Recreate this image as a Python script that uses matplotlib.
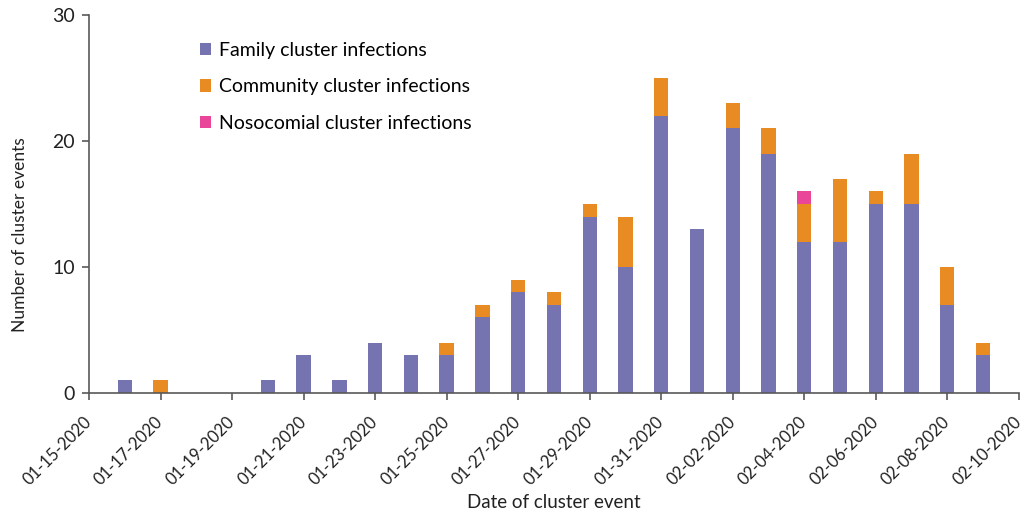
import numpy as np
import pandas as pd
import matplotlib
matplotlib.use('Agg')
import matplotlib.pyplot as plt
import matplotlib.dates as md

plt.rcParams['font.family'] = ['Lato', 'DejaVu Sans']

# Data
days = pd.date_range('2020-01-16', '2020-02-09', freq='D')
family = [1, 0, 0, 0, 1, 3, 1, 4, 3, 3, 6, 8, 7, 14, 10, 22, 13, 21, 19, 12, 12, 15, 15, 7, 3]
community = [0, 1, 0, 0, 0, 0, 0, 0, 0, 1, 1, 1, 1, 1, 4, 3, 0, 2, 2, 3, 5, 1, 4, 3, 1]
nosocomial = [0, 0, 0, 0, 0, 0, 0, 0, 0, 0, 0, 0, 0, 0, 0, 0, 0, 0, 0, 1, 0, 0, 0, 0, 0]
tick_days = pd.date_range('2020-01-15', '2020-02-10', freq='2D')

c_fam = '#7673b1'
c_com = '#e78b22'
c_nos = '#ea4699'

family = np.array(family)
community = np.array(community)
nosocomial = np.array(nosocomial)

fig = plt.figure(figsize=(10.27, 5.14), dpi=100)
ax = fig.add_axes([0.0867, 0.2354, 0.9053, 0.7354])

w = 0.4
ax.bar(days, family, width=w, color=c_fam, label='Family cluster infections')
ax.bar(days, community, width=w, bottom=family, color=c_com, label='Community cluster infections')
ax.bar(days, nosocomial, width=w, bottom=family + community, color=c_nos, label='Nosocomial cluster infections')

ax.set_xlim(tick_days[0], tick_days[-1])
ax.set_ylim(0, 30)
ax.set_yticks([0, 10, 20, 30])
ax.set_xticks(tick_days)
ax.xaxis.set_major_formatter(md.DateFormatter('%m-%d-%Y'))
plt.setp(ax.get_xticklabels(), rotation=45, ha='right', va='center', rotation_mode='anchor')

for s in ['top', 'right']:
    ax.spines[s].set_visible(False)
for s in ['left', 'bottom']:
    ax.spines[s].set_color('#595959')
    ax.spines[s].set_linewidth(1.2)
ax.tick_params(axis='both', colors='#595959', length=5, width=1.2, labelcolor='#222222')
ax.tick_params(axis='y', labelsize=14, pad=5)
ax.tick_params(axis='x', labelsize=12, pad=14)

ax.set_ylabel('Number of cluster events', fontsize=12.5, color='#222222')
ax.yaxis.set_label_coords(-0.066, 0.42)
ax.set_xlabel('Date of cluster event', fontsize=13.5, color='#222222', labelpad=4)

ax.legend(loc='upper left', bbox_to_anchor=(0.1, 0.975), frameon=False, fontsize=14,
          handlelength=0.6, handleheight=0.6, handletextpad=0.4, labelspacing=1.0)

fig.savefig('out.png', dpi=100, facecolor='w')
